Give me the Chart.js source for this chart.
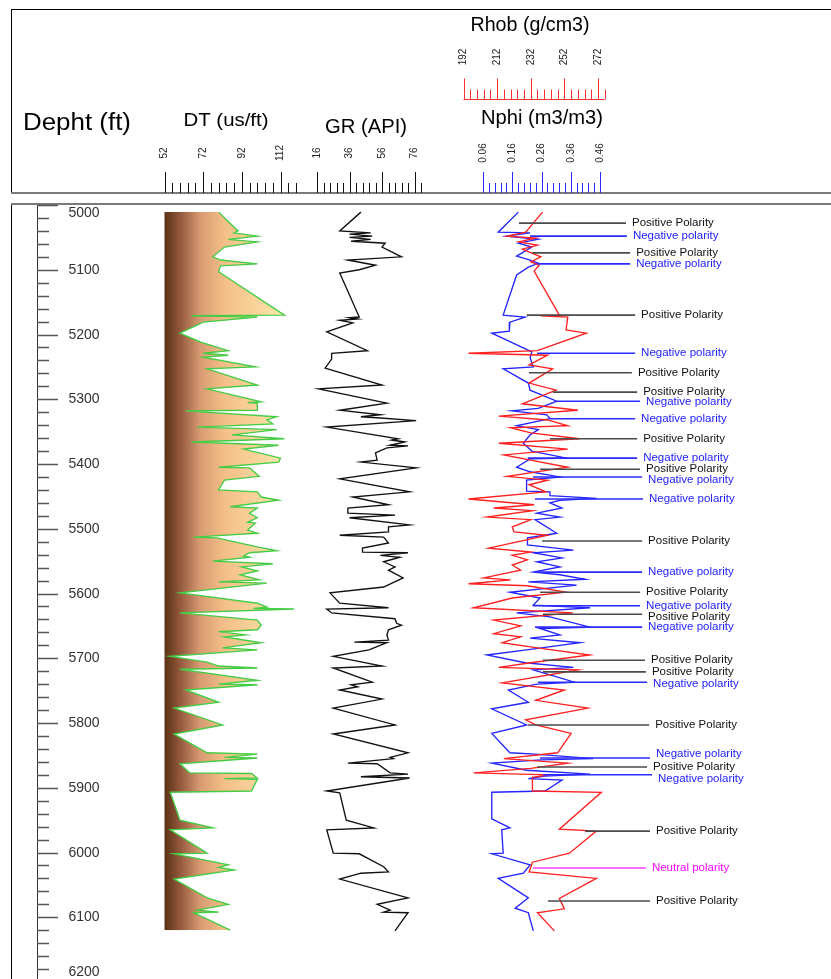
<!DOCTYPE html>
<html>
<head>
<meta charset="utf-8">
<title>Well log</title>
<script src="https://cdn.jsdelivr.net/npm/chart.js@4.4.0/dist/chart.umd.min.js"></script>
<style>
html, body { margin: 0; padding: 0; background: #fff; overflow: hidden; }
#wrap { width: 831px; height: 990px; }
</style>
</head>
<body>
<div id="wrap"><canvas id="logChart" width="831" height="990"></canvas></div>
<script>
// ---- log data (depth in ft) ----
const dtDepth = [5011,5040,5043,5048,5053,5057,5065,5080,5085,5091,5094,5103,5170,5171,5173,5181,5198,5212,5225,5229,
	5232,5235,5250,5253,5278,5284,5304,5305,5306,5317,5318,5327,5332,5338,5343,5347,5355,5361,5366,5371,
	5377,5391,5397,5405,5406,5419,5425,5440,5443,5451,5456,5466,5468,5476,5483,5490,5491,5502,5507,5513,
	5514,5528,5534,5537,5542,5544,5550,5554,5559,5565,5571,5579,5582,5584,5599,5615,5621,5623,5624,5630,
	5641,5649,5656,5659,5664,5667,5676,5684,5687,5697,5706,5712,5715,5717,5734,5740,5741,5749,5768,5777,
	5803,5817,5846,5848,5853,5854,5863,5877,5878,5885,5886,5887,5905,5907,5950,5962,5965,6001,6002,6019,
	6023,6027,6041,6070,6080,6089,6092,6093,6120];
const dtValue = [80,90,88,100,85,100,83,77,81,100,81,80,114,66,100,72,60,71,85,72,
	85,72,99,74,100,74,102,95,100,100,63,110,105,108,69,110,87,114,66,111,
	93,112,111,80,96,101,83,80,100,102,111,86,100,96,100,95,99,95,100,67,
	79,100,110,96,93,96,77,108,92,100,91,101,80,105,60,100,105,98,119,60,
	100,102,100,80,94,83,102,82,100,55,74,80,100,60,100,80,100,63,80,57,
	82,57,74,100,83,100,60,65,97,100,83,100,97,55,60,77,55,74,57,85,
	80,88,57,74,85,69,80,67,86];

const grDepth = [5011,5040,5043,5045,5048,5050,5053,5056,5059,5065,5080,5085,5093,5100,5105,5173,5174,5176,5178,5182,
	5196,5225,5229,5238,5252,5278,5284,5306,5317,5324,5327,5329,5333,5343,5361,5363,5366,5371,5372,5375,
	5383,5394,5397,5406,5423,5443,5451,5463,5468,5476,5479,5483,5494,5497,5505,5510,5513,5522,5530,5536,
	5537,5541,5544,5551,5559,5564,5576,5590,5599,5615,5622,5624,5630,5639,5646,5649,5656,5664,5672,5675,
	5676,5687,5697,5712,5715,5737,5741,5744,5749,5763,5777,5803,5817,5846,5853,5855,5862,5863,5877,5879,
	5883,5885,5905,5908,5950,5962,5965,6001,6002,6022,6030,6032,6041,6070,6080,6089,6092,6093,6121];
const grValue = [43,30,49,36,50,36,49,37,58,56,68,35,52,42,30,42,36,41,30,38,
	22,47,25,25,21,56,17,59,30,55,43,55,77,22,66,62,70,61,72,59,
	52,53,43,77,30,73,38,60,35,35,64,36,73,60,60,30,57,60,44,44,
	72,55,67,57,64,60,69,57,24,30,60,22,25,64,65,68,60,59,60,39,
	59,48,26,56,26,50,37,41,30,56,26,64,26,72,61,63,35,53,61,72,
	43,73,22,30,34,51,22,26,42,57,60,43,30,72,53,61,57,72,64];

const nphiDepth = [5011,5042,5043,5048,5053,5059,5065,5079,5085,5090,5096,5108,5170,5173,5181,5195,5198,5227,5236,5250,
	5253,5275,5286,5303,5314,5318,5324,5330,5341,5347,5355,5368,5380,5391,5392,5405,5412,5420,5425,5442,
	5443,5449,5453,5456,5460,5468,5476,5482,5486,5507,5514,5525,5533,5537,5545,5551,5559,5567,5571,5578,
	5582,5587,5598,5607,5618,5622,5630,5636,5652,5654,5664,5669,5676,5687,5695,5707,5714,5718,5737,5740,
	5749,5768,5778,5803,5816,5846,5848,5855,5857,5862,5873,5879,5882,5886,5888,5905,5907,5948,5962,5965,
	6001,6002,6019,6032,6040,6070,6086,6093,6121];
const nphiValue = [0.181,0.112,0.221,0.141,0.249,0.181,0.227,0.175,0.221,0.249,0.215,0.175,0.129,0.204,0.152,0.150,0.090,0.227,0.221,0.232,
	0.129,0.215,0.221,0.312,0.249,0.158,0.278,0.289,0.175,0.249,0.221,0.198,0.227,0.346,0.221,0.175,0.221,0.323,0.209,0.209,
	0.289,0.289,0.449,0.323,0.289,0.330,0.244,0.323,0.238,0.312,0.212,0.212,0.369,0.232,0.330,0.244,0.323,0.232,0.323,0.409,
	0.215,0.380,0.152,0.255,0.232,0.426,0.175,0.289,0.426,0.255,0.323,0.221,0.392,0.209,0.073,0.204,0.369,0.232,0.373,0.244,
	0.147,0.215,0.090,0.209,0.090,0.152,0.238,0.437,0.260,0.090,0.209,0.426,0.272,0.215,0.330,0.272,0.090,0.090,0.152,0.124,
	0.129,0.090,0.221,0.198,0.112,0.215,0.170,0.215,0.232];

const rhobDepth = [5011,5042,5048,5051,5057,5062,5068,5080,5088,5093,5102,5170,5171,5173,5193,5198,5225,5229,5232,5247,
	5253,5275,5286,5307,5317,5326,5332,5341,5344,5352,5361,5368,5377,5386,5394,5405,5419,5425,5432,5443,
	5454,5463,5468,5472,5482,5486,5497,5505,5510,5530,5536,5541,5548,5556,5564,5576,5579,5585,5588,5598,
	5607,5622,5630,5641,5650,5662,5667,5676,5684,5695,5707,5714,5718,5738,5749,5765,5777,5795,5803,5816,
	5846,5855,5862,5870,5877,5880,5884,5905,5907,5964,5967,6001,6015,6030,6040,6071,6087,6093,6121];
const rhobValue = [239,229,218,235,225,236,227,238,232,237,234,249,238,254,253,265,236,195,242,231,
	245,231,247,227,260,213,242,254,220,232,261,213,254,216,232,254,218,242,231,241,
	195,234,210,233,206,232,221,222,242,207,232,221,230,221,226,204,220,195,230,253,
	221,198,257,210,226,210,226,215,236,267,232,213,260,215,252,235,266,229,235,256,
	248,216,254,232,198,243,233,233,274,249,271,255,233,231,271,249,252,236,246];

// polarity picks: depth, kind (P/N/U), start and end of leader in Nphi units
const pickDepth = [5028,5048,5074,5091,5170,5229,5259,5289,5303,5330,5361,5391,5408,5420,5454,5519,5567,5598,5619,5632,
	5652,5703,5721,5737,5803,5854,5868,5880,5967,6024,6075];
const pickKind = ['P','N','P','N','P','N','P','P','N','N','P','N','P','N','N','P','N','P','N','P',
	'N','P','P','N','P','N','P','N','P','U','P'];
const pickStart = [0.183,0.221,0.228,0.248,0.210,0.245,0.217,0.299,0.313,0.289,0.289,0.214,0.255,0.231,0.238,0.262,0.238,0.255,0.231,0.265,
	0.238,0.265,0.265,0.248,0.214,0.255,0.245,0.265,0.409,0.231,0.282];
const pickEnd = [0.549,0.552,0.563,0.563,0.580,0.580,0.569,0.587,0.597,0.580,0.587,0.587,0.597,0.604,0.607,0.604,0.604,0.597,0.597,0.604,
	0.604,0.614,0.617,0.621,0.628,0.631,0.621,0.638,0.631,0.617,0.631];

// header tick labels
const dtTicks = [52, 72, 92, 112];
const grTicks = [16, 36, 56, 76];
const nphiTicks = [0.06, 0.16, 0.26, 0.36, 0.46];
const rhobTicks = [192, 212, 232, 252, 272];

const FONT = '"Liberation Sans", Arial, sans-serif';
const W = 831;

// set min/max so that value v0 lands on pixel p0 and v1 on p1 (chart area spans 0..W)
function fitScale(v0, v1, p0, p1) {
	const ppu = (p1 - p0) / (v1 - v0);
	const min = v0 - p0 / ppu;
	return { min: min, max: min + W / ppu };
}

const dtFit = fitScale(52, 112, 164.5, 280.5);
const grFit = fitScale(16, 76, 317, 414.5);
const nphiFit = fitScale(0.06, 0.46, 483, 600);
const rhobFit = fitScale(192, 272, 463.5, 598);

const pickStyle = {
	P: { line: '#4a4a4a', text: '#111', label: 'Positive Polarity' },
	N: { line: '#2b2bff', text: '#1c1cff', label: 'Negative polarity' },
	U: { line: '#ff3cff', text: '#ff00ff', label: 'Neutral polarity' }
};
const labelNudge = { 8: 1, 13: 3, 19: 3, 23: 2, 25: -4, 27: 4 };

function toPoints(depths, values) {
	return depths.map((d, i) => ({ x: values[i], y: d }));
}

function dtGradient(c) {
	const chart = c.chart;
	const s = chart.scales.xDT;
	if (!s || !chart.chartArea) return '#f3bd86';
	const x0 = s.getPixelForValue(52), x1 = s.getPixelForValue(120);
	if (!isFinite(x0) || !isFinite(x1) || x1 <= x0) return '#f3bd86';
	const g = chart.ctx.createLinearGradient(x0, 0, x1, 0);
	g.addColorStop(0, '#5a3115');
	g.addColorStop(0.12, '#94593d');
	g.addColorStop(0.27, '#d79a72');
	g.addColorStop(0.45, '#f4be88');
	g.addColorStop(0.72, '#fad59d');
	g.addColorStop(1, '#fff5b2');
	return g;
}

function fitText(ctx, text, cx, cy, size, width) {
	ctx.save();
	ctx.font = size + 'px ' + FONT;
	const m = ctx.measureText(text).width;
	ctx.translate(cx, cy);
	ctx.scale(width / m, 1);
	ctx.textAlign = 'center';
	ctx.textBaseline = 'middle';
	ctx.fillText(text, 0, 0);
	ctx.restore();
}

function hline(ctx, x0, x1, y) {
	ctx.beginPath(); ctx.moveTo(x0, y); ctx.lineTo(x1, y); ctx.stroke();
}
function vline(ctx, x, y0, y1) {
	ctx.beginPath(); ctx.moveTo(x, y0); ctx.lineTo(x, y1); ctx.stroke();
}

// header scale: ticks every `step`, long ones at labelled values, rotated labels
function drawHeaderScale(ctx, scale, from, to, step, labels, baseY, labelY, color, digits) {
	ctx.save();
	ctx.strokeStyle = color;
	ctx.lineWidth = 1;
	const n = Math.round((to - from) / step);
	for (let i = 0; i <= n; i++) {
		const v = from + i * step;
		const major = labels.some(l => Math.abs(l - v) < step / 10);
		const x = Math.round(scale.getPixelForValue(v)) + 0.5;
		vline(ctx, x, baseY - (major ? 21 : 10), baseY);
	}
	ctx.fillStyle = '#222';
	ctx.font = '10px ' + FONT;
	ctx.textAlign = 'center';
	ctx.textBaseline = 'middle';
	labels.forEach(l => {
		const x = scale.getPixelForValue(l);
		ctx.save();
		ctx.translate(x, labelY);
		ctx.rotate(-Math.PI / 2);
		ctx.fillText(l.toFixed(digits), 0, 0);
		ctx.restore();
	});
	ctx.restore();
}

const logFrame = {
	id: 'logFrame',
	beforeDatasetsDraw(chart) {
		const ctx = chart.ctx;
		const ys = chart.scales.y;
		ctx.save();
		// boxes
		ctx.strokeStyle = '#000';
		ctx.lineWidth = 1;
		hline(ctx, 11, W, 9.5);
		vline(ctx, 11.5, 9, 193);
		vline(ctx, 11.5, 204, 990);
		ctx.strokeStyle = '#7a7a7a';
		ctx.lineWidth = 2;
		hline(ctx, 11, W, 193);
		hline(ctx, 11, W, 204);

		// depth axis
		ctx.strokeStyle = '#333';
		ctx.lineWidth = 1;
		vline(ctx, 37.5, 205, 990);
		ctx.font = '14px ' + FONT;
		ctx.fillStyle = '#333';
		ctx.textAlign = 'center';
		ctx.textBaseline = 'middle';
		for (let d = 5000; d <= 6200; d += 20) {
			const y = Math.round(ys.getPixelForValue(d)) + 0.5;
			const major = d % 100 === 0;
			ctx.strokeStyle = '#555';
			ctx.lineWidth = 1.5;
			hline(ctx, 37, major ? 58 : 49, y);
			if (major) {
				const ly = Math.min(Math.max(y, 213), 972);
				ctx.fillText(String(d), 84, ly);
			}
		}

		// header scales
		drawHeaderScale(ctx, chart.scales.xDT, 52, 120, 4, dtTicks, 193, 153, '#111', 0);
		drawHeaderScale(ctx, chart.scales.xGR, 16, 80, 4, grTicks, 193, 153, '#111', 0);
		drawHeaderScale(ctx, chart.scales.xN, 0.06, 0.46, 0.02, nphiTicks, 193, 153, '#2a2aff', 2);
		drawHeaderScale(ctx, chart.scales.xR, 192, 276, 4, rhobTicks, 99.5, 57, '#ff3030', 0);
		ctx.strokeStyle = '#ff3030';
		ctx.lineWidth = 1;
		hline(ctx, chart.scales.xR.getPixelForValue(192), chart.scales.xR.getPixelForValue(276), 99.5);

		// titles
		ctx.fillStyle = '#000';
		fitText(ctx, 'Depht (ft)', 77, 124, 23, 108);
		fitText(ctx, 'DT (us/ft)', 226, 121, 19, 85);
		fitText(ctx, 'GR (API)', 366, 127, 20, 82);
		fitText(ctx, 'Nphi (m3/m3)', 542, 118, 20, 122);
		fitText(ctx, 'Rhob (g/cm3)', 530, 25, 20, 119);
		ctx.restore();
	},
	afterDatasetsDraw(chart) {
		const ctx = chart.ctx;
		const xs = chart.scales.xN, ys = chart.scales.y;
		ctx.save();
		ctx.font = '11.5px ' + FONT;
		ctx.textAlign = 'left';
		ctx.textBaseline = 'middle';
		pickDepth.forEach((d, i) => {
			const st = pickStyle[pickKind[i]];
			ctx.fillStyle = st.text;
			const x = xs.getPixelForValue(pickEnd[i]) + 6;
			const y = ys.getPixelForValue(d) + (labelNudge[i] || 0);
			ctx.fillText(st.label, x, y);
		});
		ctx.restore();
	}
};

const curveBase = { pointRadius: 0, tension: 0, borderWidth: 1.35, yAxisID: 'y' };

const pickSets = pickDepth.map((d, i) => ({
	...curveBase,
	data: [{ x: pickStart[i], y: d }, { x: pickEnd[i], y: d }],
	xAxisID: 'xN',
	borderColor: pickStyle[pickKind[i]].line,
	borderWidth: 1.6,
	fill: false
}));

new Chart(document.getElementById('logChart'), {
	type: 'line',
	data: {
		datasets: [
			...pickSets,
			{ ...curveBase, label: 'Rhob', data: toPoints(rhobDepth, rhobValue), xAxisID: 'xR', borderColor: '#ff2020', fill: false },
			{ ...curveBase, label: 'Nphi', data: toPoints(nphiDepth, nphiValue), xAxisID: 'xN', borderColor: '#2424ff', fill: false },
			{ ...curveBase, label: 'GR', data: toPoints(grDepth, grValue), xAxisID: 'xGR', borderColor: '#111', fill: false },
			{ ...curveBase, label: 'DT', data: toPoints(dtDepth, dtValue), xAxisID: 'xDT', borderColor: '#45cc45',
				backgroundColor: dtGradient, fill: { value: 52 } }
		]
	},
	options: {
		indexAxis: 'y',
		responsive: false,
		animation: false,
		devicePixelRatio: 1,
		layout: { padding: { top: 205, bottom: 8, left: 0, right: 0 } },
		plugins: { legend: { display: false }, tooltip: { enabled: false } },
		scales: {
			y: { type: 'linear', min: 5000, max: 6200, reverse: true, display: false },
			xDT: { type: 'linear', axis: 'x', min: dtFit.min, max: dtFit.max, display: false },
			xGR: { type: 'linear', axis: 'x', min: grFit.min, max: grFit.max, display: false },
			xN: { type: 'linear', axis: 'x', min: nphiFit.min, max: nphiFit.max, display: false },
			xR: { type: 'linear', axis: 'x', min: rhobFit.min, max: rhobFit.max, display: false }
		}
	},
	plugins: [logFrame]
});
</script>
</body>
</html>
